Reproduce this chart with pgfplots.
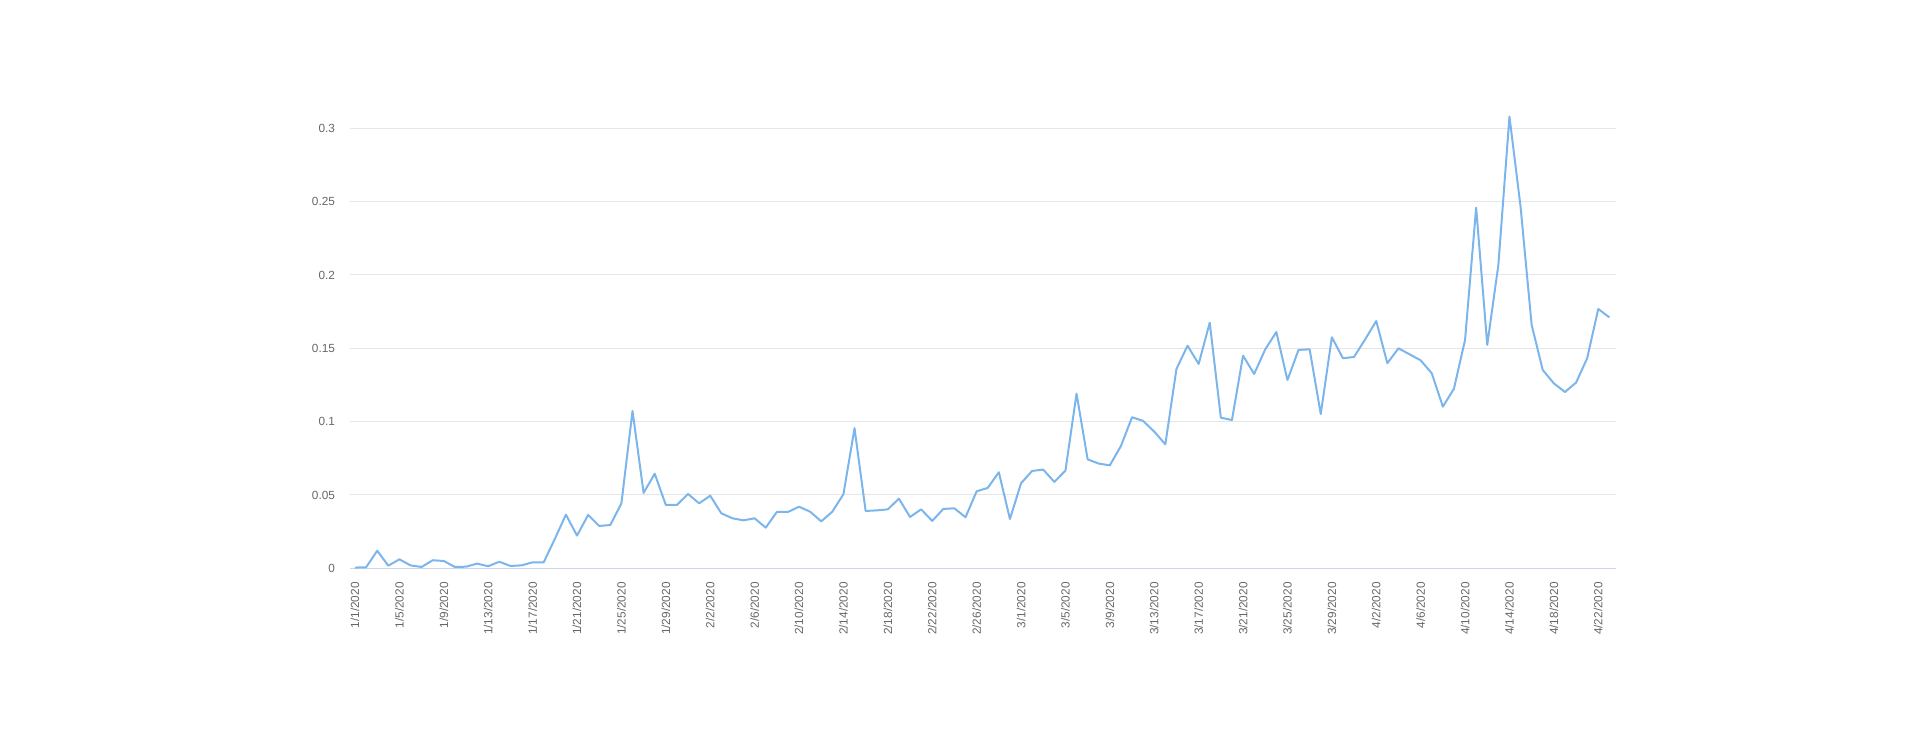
\documentclass[border=0pt]{standalone}
\usepackage{fontspec}
\setmainfont{Liberation Sans}
\usepackage{pgfplots}
\pgfplotsset{compat=1.18}
\definecolor{linec}{HTML}{7CB5EC}
\definecolor{gridc}{HTML}{E6E6E6}
\definecolor{axisc}{HTML}{CCD6EB}
\definecolor{labc}{HTML}{666666}
\pgfplotstableread{
n v
0 0.0005
1 0.0007
2 0.012
3 0.0018
4 0.0061
5 0.002
6 0.0009
7 0.0055
8 0.005
9 0.0009
10 0.0011
11 0.0032
12 0.0014
13 0.0045
14 0.0016
15 0.002
16 0.0041
17 0.0041
18 0.020
19 0.0366
20 0.0223
21 0.0364
22 0.0289
23 0.0295
24 0.0443
25 0.1073
26 0.0514
27 0.0645
28 0.0432
29 0.0432
30 0.0507
31 0.0443
32 0.0495
33 0.0375
34 0.0341
35 0.0327
36 0.0341
37 0.0277
38 0.0384
39 0.0384
40 0.042
41 0.0386
42 0.032
43 0.0386
44 0.0505
45 0.0955
46 0.0391
47 0.0395
48 0.0402
49 0.0475
50 0.035
51 0.0402
52 0.0323
53 0.0405
54 0.0409
55 0.0348
56 0.0525
57 0.0548
58 0.0655
59 0.0336
60 0.058
61 0.0664
62 0.0673
63 0.0589
64 0.0666
65 0.1191
66 0.0743
67 0.0714
68 0.0702
69 0.0834
70 0.103
71 0.1005
72 0.0932
73 0.0845
74 0.1359
75 0.1518
76 0.1393
77 0.1675
78 0.1027
79 0.1011
80 0.145
81 0.1325
82 0.1493
83 0.1611
84 0.1284
85 0.1489
86 0.1493
87 0.1052
88 0.1575
89 0.1432
90 0.1441
91 0.1561
92 0.1686
93 0.1398
94 0.15
95 0.1459
96 0.1418
97 0.133
98 0.1102
99 0.1225
100 0.1557
101 0.2459
102 0.1523
103 0.2068
104 0.308
105 0.2466
106 0.1659
107 0.1352
108 0.1261
109 0.1202
110 0.1266
111 0.1432
112 0.1768
113 0.1711
}\datatable
\begin{document}
\begin{tikzpicture}
\path[use as bounding box] (0,0) rectangle (960pt,370.5pt);
\begin{axis}[
  at={(175pt,86.35pt)}, anchor=south west,
  scale only axis, width=633pt, height=234.67pt,
  xmin=-0.45, xmax=113.6, ymin=0, ymax=0.32,
  axis line style={draw=none},
  major tick length=0pt,
  ymajorgrids, grid style={gridc, line width=0.5pt},
  ytick={0,0.05,0.1,0.15,0.2,0.25,0.3},
  yticklabels={0,0.05,0.1,0.15,0.2,0.25,0.3},
  xtick={0,4,8,12,16,20,24,28,32,36,40,44,48,52,56,60,64,68,72,76,80,84,88,92,96,100,104,108,112},
  xticklabels={1/1/2020,1/5/2020,1/9/2020,1/13/2020,1/17/2020,1/21/2020,1/25/2020,1/29/2020,2/2/2020,2/6/2020,2/10/2020,2/14/2020,2/18/2020,2/22/2020,2/26/2020,3/1/2020,3/5/2020,3/9/2020,3/13/2020,3/17/2020,3/21/2020,3/25/2020,3/29/2020,4/2/2020,4/6/2020,4/10/2020,4/14/2020,4/18/2020,4/22/2020},
  x tick label style={rotate=90, anchor=east, font=\fontsize{5.9}{6.5}\selectfont, text=labc},
  y tick label style={font=\fontsize{5.9}{6.5}\selectfont, text=labc},
  xticklabel shift=3.5pt,
  yticklabel shift=4pt,
  clip=false,
]
\draw[axisc, line width=0.5pt] (axis cs:-0.45,0) -- (axis cs:113.6,0);
\addplot[linec, line width=1pt, line join=round, no marks] table[x=n, y=v] {\datatable};
\end{axis}
\end{tikzpicture}
\end{document}
